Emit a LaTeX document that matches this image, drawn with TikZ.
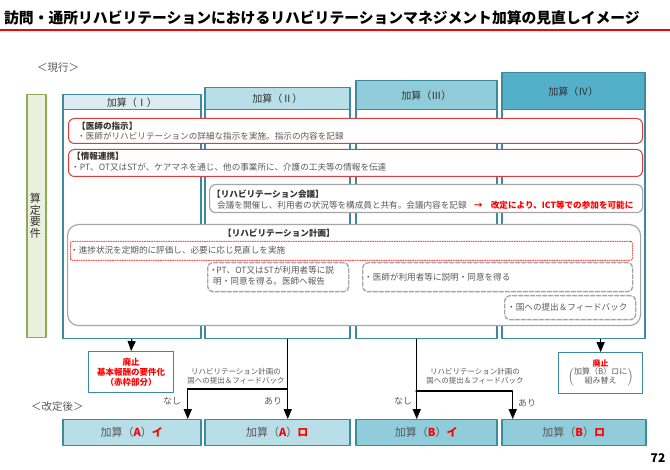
\documentclass[tikz,border=0pt]{standalone}
\usepackage{fontspec}
\setmainfont{Noto Sans CJK JP}
\usetikzlibrary{arrows}
\definecolor{ffqqqq}{rgb}{1,0,0}
\definecolor{dd3b3b}{rgb}{0.86,0.24,0.24}
\definecolor{dbeef3}{rgb}{0.86,0.93,0.95}
\definecolor{b7dde8}{rgb}{0.72,0.87,0.91}
\definecolor{92cddc}{rgb}{0.57,0.80,0.86}
\definecolor{55b0c9}{rgb}{0.33,0.69,0.79}
\definecolor{3a8a9e}{rgb}{0.23,0.54,0.62}
\definecolor{ebf1de}{rgb}{0.92,0.94,0.87}
\definecolor{8fab55}{rgb}{0.56,0.67,0.33}
\definecolor{a6a6a6}{rgb}{0.65,0.65,0.65}
\definecolor{595959}{rgb}{0.35,0.35,0.35}
\definecolor{333333}{rgb}{0.2,0.2,0.2}

\begin{document}
\begin{tikzpicture}[line cap=round,line join=round,>=triangle 45,x=1pt,y=-1pt,
  colbody/.style={draw=3a8a9e,line width=1.5pt,fill=white,anchor=north west,inner sep=0pt},
  colhead/.style={colbody,font=\fontsize{10}{10}\selectfont,text=333333},
  redbox/.style={draw=dd3b3b,line width=1pt,fill=white,rounded corners=6pt,anchor=north west,inner sep=0pt},
  graybox/.style={draw=a6a6a6,line width=1.2pt,fill=white,rounded corners=6pt,anchor=north west,inner sep=0pt},
  dashbox/.style={draw=a6a6a6,line width=1.4pt,dash pattern=on 4pt off 2pt,rounded corners=5pt,anchor=north west,inner sep=0pt},
  dotbox/.style={draw=ffqqqq,line width=0.7pt,dash pattern=on 1.2pt off 1.2pt,rounded corners=2pt,anchor=north west,inner sep=0pt},
  newbox/.style={draw=3a8a9e,line width=1.5pt,anchor=north west,inner sep=0pt,font=\fontsize{11}{11}\selectfont,text=595959},
  dropbox/.style={draw=3a8a9e,line width=1.3pt,fill=white,anchor=north west,inner sep=0pt,align=center},
  txt/.style={anchor=west,inner sep=0pt,text=595959,font=\fontsize{8.6}{11}\selectfont},
  hdtxt/.style={txt,text=333333,font=\fontsize{8.6}{11}\selectfont\bfseries},
  note/.style={inner sep=0pt,text=595959,align=center,font=\fontsize{7.5}{9}\selectfont},
  yesno/.style={inner sep=0pt,text=595959,font=\fontsize{9}{9}\selectfont},
  link/.style={->,line width=1.3pt,black}]
\useasboundingbox (0,0) rectangle (670,470);
\node[anchor=west,inner sep=0pt,font=\fontsize{14.8}{15}\selectfont\bfseries] (title) at (4,18) {訪問・通所リハビリテーションにおけるリハビリテーションマネジメント加算の見直しイメージ};
\draw [line width=2pt,color=ffqqqq] (0,30)-- (670,30);
\node[anchor=west,inner sep=0pt,text=595959,font=\fontsize{10.5}{10.5}\selectfont] (now) at (37,68) {＜現行＞};
\node[draw=8fab55,line width=1.5pt,fill=ebf1de,anchor=north west,inner sep=0pt,minimum width=19,minimum height=243] (req) at (26,94) {};
\node[inner sep=0pt,text=333333,align=center,font=\fontsize{11}{11.5}\selectfont] (reqtxt) at (35.5,216) {算\\定\\要\\件};
% columns
\node[colbody,minimum width=138,minimum height=229] (colI) at (62,109) {};
\node[colbody,minimum width=145,minimum height=229] (colII) at (204,109) {};
\node[colbody,minimum width=141,minimum height=229] (colIII) at (355,109) {};
\node[colbody,minimum width=143,minimum height=229] (colIV) at (501,109) {};
\node[colhead,fill=dbeef3,minimum width=138,minimum height=15] (hdI) at (62,94) {加算（Ⅰ）};
\node[colhead,fill=b7dde8,minimum width=145,minimum height=22] (hdII) at (204,87) {加算（Ⅱ）};
\node[colhead,fill=92cddc,minimum width=141,minimum height=29] (hdIII) at (355,80) {加算（Ⅲ）};
\node[colhead,fill=55b0c9,minimum width=143,minimum height=37] (hdIV) at (501,72) {加算（Ⅳ）};
% requirements
\node[redbox,minimum width=574,minimum height=25] (drbox) at (68,118) {};
\node[hdtxt] (drhd) at (77,126) {【医師の指示】};
\node[txt] (drtxt) at (77,136.5) {・医師がリハビリテーションの詳細な指示を実施。指示の内容を記録};
\node[redbox,minimum width=574,minimum height=27] (infobox) at (68,149) {};
\node[hdtxt] (infohd) at (72,156) {【情報連携】};
\node[txt] (infotxt) at (71,167.5) {・PT、OT又はSTが、ケアマネを通じ、他の事業所に、介護の工夫等の情報を伝達};
\node[graybox,minimum width=433,minimum height=28] (mtgbox) at (209,184) {};
\node[hdtxt] (mtghd) at (212,194) {【リハビリテーション会議】};
\node[txt] (mtgtxt) at (217,205) {会議を開催し、利用者の状況等を構成員と共有。会議内容を記録};
\node[txt,text=ffqqqq,font=\fontsize{8.6}{11}\selectfont\bfseries] (ict) at (474,205) {→\hspace{8pt}改定により、ICT等での参加を可能に};
\node[graybox,rounded corners=11pt,minimum width=573,minimum height=101] (planbox) at (67,224) {};
\node[hdtxt,anchor=center] (planhd) at (279,233) {【リハビリテーション計画】};
\node[dotbox,minimum width=562,minimum height=19] (revbox) at (70,241) {};
\node[txt] (revtxt) at (70,250.5) {・進捗状況を定期的に評価し、必要に応じ見直しを実施};
\node[dashbox,minimum width=141,minimum height=29] (ptbox) at (207,262) {};
\node[txt,align=left,anchor=north west,font=\fontsize{8.6}{11}\selectfont] (pttxt) at (213,266) {\hspace*{-4pt}・\hspace*{-1.5pt}PT、OT又はSTが利用者等に説\\明・同意を得る。医師へ報告};
\node[dashbox,minimum width=270,minimum height=29] (mdbox) at (362,262) {};
\node[txt] (mdtxt) at (364,277) {・医師が利用者等に説明・同意を得る};
\node[dashbox,minimum width=131,minimum height=24] (fbbox) at (504,295) {};
\node[txt] (fbtxt) at (507,307) {・国への提出＆フィードバック};
% after revision
\node[dropbox,minimum width=85,minimum height=41,text=ffqqqq,font=\fontsize{8.5}{10}\selectfont\bfseries] (abolA) at (88,351) {廃止\\基本報酬の要件化\\（赤枠部分）};
\node[dropbox,minimum width=84,minimum height=41,text=595959,font=\fontsize{8}{9.5}\selectfont] (abolB) at (558,352) {\textcolor{ffqqqq}{\bfseries 廃止}\\[-1pt]$\left(\renewcommand{\arraystretch}{0.85}\begin{tabular}{@{}c@{}}加算（B）ロに\\組み替え\end{tabular}\right)$};
\node[anchor=west,inner sep=0pt,text=595959,font=\fontsize{10.5}{10.5}\selectfont] (after) at (31,407) {＜改定後＞};
\node[newbox,fill=b7dde8,minimum width=138,minimum height=26] (aI) at (62,419) {加算（\textcolor{ffqqqq}{\bfseries A}）\textcolor{ffqqqq}{\bfseries イ}};
\node[newbox,fill=b7dde8,minimum width=145,minimum height=26] (aRo) at (204,419) {加算（\textcolor{ffqqqq}{\bfseries A}）\textcolor{ffqqqq}{\bfseries ロ}};
\node[newbox,fill=92cddc,minimum width=141,minimum height=26] (bI) at (355,419) {加算（\textcolor{ffqqqq}{\bfseries B}）\textcolor{ffqqqq}{\bfseries イ}};
\node[newbox,fill=92cddc,minimum width=144,minimum height=26] (bRo) at (501,419) {加算（\textcolor{ffqqqq}{\bfseries B}）\textcolor{ffqqqq}{\bfseries ロ}};
\coordinate (brA) at (287,389);
\coordinate (brB) at (416,391);
\draw [link] (colI.south) -- (abolA.north);
\draw [link] ([xshift=10.5pt]colII.south) -- ([xshift=10.5pt]aRo.north);
\draw [link] (brA) -| ([xshift=56pt]aI.north);
\draw [link] ([xshift=-9.5pt]colIII.south) -- ([xshift=-9.5pt]bI.north);
\draw [link] (brB) -| ([xshift=-61pt]bRo.north);
\draw [link] (abolB.north |- colIV.south) -- (abolB.north);
\node[note] (noteA) at (236,376.5) {リハビリテーション計画の\\国への提出＆フィードバック};
\node[note] (noteB) at (475,376.5) {リハビリテーション計画の\\国への提出＆フィードバック};
\node[yesno] (noA) at (172,401) {なし};
\node[yesno] (yesA) at (273,401) {あり};
\node[yesno] (noB) at (403,401) {なし};
\node[yesno] (yesB) at (527,403) {あり};
\node[inner sep=0pt,font=\fontsize{12}{12}\selectfont\bfseries] (page) at (658,458) {72};
\end{tikzpicture}
\end{document}
